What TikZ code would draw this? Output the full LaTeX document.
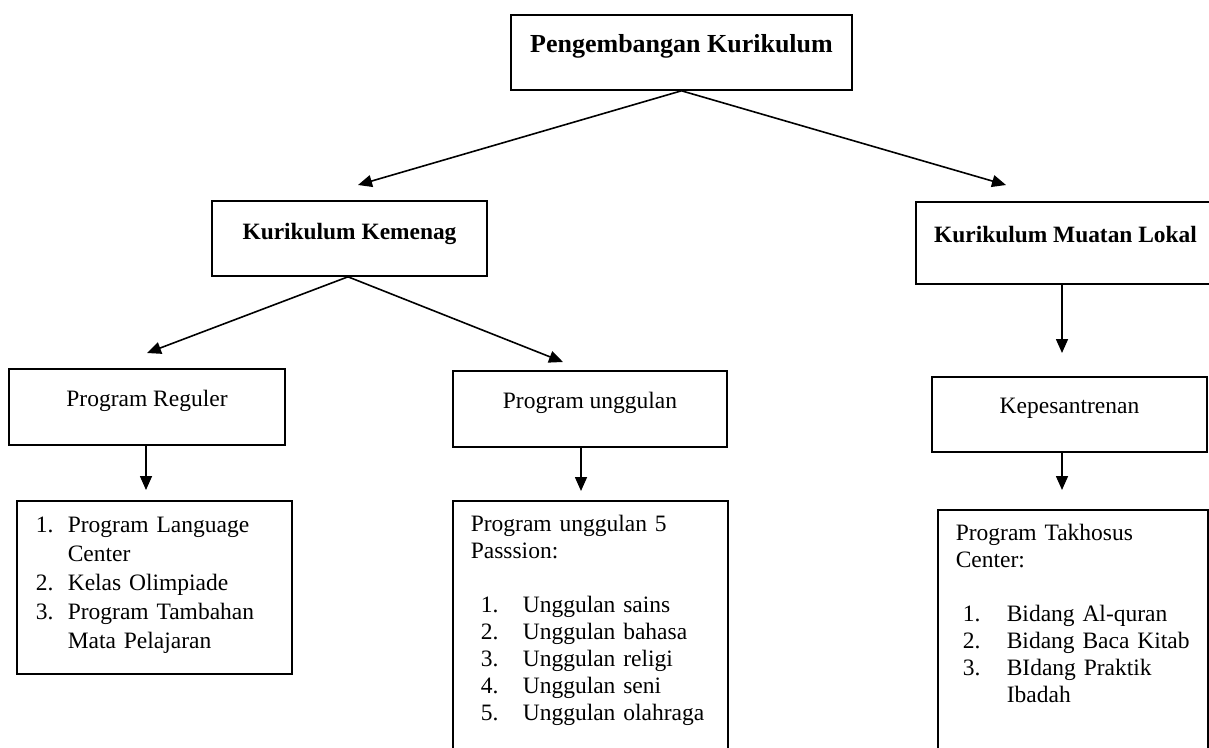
\documentclass[tikz,border=0pt]{standalone}
\usepackage{fontspec}
\setmainfont{Liberation Serif}
\usepackage{tikz}
\usetikzlibrary{arrows.meta}

\begin{document}
\begin{tikzpicture}[x=1pt, y=-1pt,
  box/.style={draw, line width=1.6pt, inner sep=0pt, anchor=base,
              font=\fontsize{23.5}{29}\selectfont},
  hbox/.style={box, font=\bfseries\fontsize{23.4}{29}\selectfont},
  listbox/.style={draw, line width=1.6pt, anchor=north west, align=left,
              inner ysep=0pt, inner xsep=18pt, text height=31pt},
  ar/.style={-{Triangle[length=14pt,width=12pt]}, line width=1.6pt}]
\useasboundingbox (0,0) rectangle (1209,747);
% level 0
\node[hbox, font=\bfseries\fontsize{26}{29}\selectfont, minimum width=341pt,
      text height=37pt, text depth=38pt] (pk) at (681.5,52) {Pengembangan Kurikulum};
% level 1
\node[hbox, minimum width=275pt, text height=38pt, text depth=37pt] (kk) at (349.5,239) {Kurikulum Kemenag};
\node[hbox, minimum width=299pt, text height=40pt, text depth=42pt] (kml) at (1065.5,242) {Kurikulum Muatan Lokal};
% level 2
\node[box, minimum width=276pt, text height=37pt, text depth=39pt] (preg) at (147,406) {Program Reguler};
\node[box, minimum width=274pt, text height=37pt, text depth=39pt] (pung) at (590,408) {Program unggulan};
\node[box, minimum width=275pt, text height=36pt, text depth=39pt] (kep) at (1069.5,413) {Kepesantrenan};
% lists
\node[listbox, inner xsep=19pt, text width=237pt, text height=32pt, text depth=141pt,
      font=\fontsize{23.5}{29}\selectfont] (lreg) at (16,500) {%
  \begin{tabular}[t]{@{}p{32pt}@{}l@{}}
  1. & Program Language\\
     & Center\\
  2. & Kelas Olimpiade\\
  3. & Program Tambahan\\
     & Mata Pelajaran
  \end{tabular}};
\node[listbox, text width=239pt, text depth=260pt,
      font=\fontsize{23.5}{27}\selectfont] (lung) at (452,500) {%
  \begin{tabular}[t]{@{}p{52pt}@{}l@{}}
  \multicolumn{2}{@{}l@{}}{Program unggulan 5}\\
  \multicolumn{2}{@{}l@{}}{Passsion:}\\
  & \\
  \hspace*{10pt}1. & Unggulan sains\\
  \hspace*{10pt}2. & Unggulan bahasa\\
  \hspace*{10pt}3. & Unggulan religi\\
  \hspace*{10pt}4. & Unggulan seni\\
  \hspace*{10pt}5. & Unggulan olahraga
  \end{tabular}};
\node[listbox, text width=234pt, text depth=260pt,
      font=\fontsize{23.5}{27}\selectfont] (lkep) at (937,509) {%
  \begin{tabular}[t]{@{}p{51pt}@{}l@{}}
  \multicolumn{2}{@{}l@{}}{Program Takhosus}\\
  \multicolumn{2}{@{}l@{}}{Center:}\\
  & \\
  \hspace*{7pt}1. & Bidang Al-quran\\
  \hspace*{7pt}2. & Bidang Baca Kitab\\
  \hspace*{7pt}3. & BIdang Praktik\\
                  & Ibadah
  \end{tabular}};
% arrow tips
\coordinate (tkk)   at (358,185);
\coordinate (tkml)  at (1006,185);
\coordinate (tpreg) at (147,353);
\coordinate (tpung) at (563,362);
\coordinate (tkep)  at (1062,353);
\coordinate (tlreg) at (146,490);
\coordinate (tlung) at (581,491);
\coordinate (tlkep) at (1062,490);
\draw[ar] (pk.south) -- (tkk);
\draw[ar] (pk.south) -- (tkml);
\draw[ar] ([xshift=-1.5pt]kk.south) -- (tpreg);
\draw[ar] ([xshift=-1.5pt]kk.south) -- (tpung);
\draw[ar] (kml.south -| tkep) -- (tkep);
\draw[ar] (preg.south -| tlreg) -- (tlreg);
\draw[ar] (pung.south -| tlung) -- (tlung);
\draw[ar] (kep.south -| tlkep) -- (tlkep);
\end{tikzpicture}
\end{document}
